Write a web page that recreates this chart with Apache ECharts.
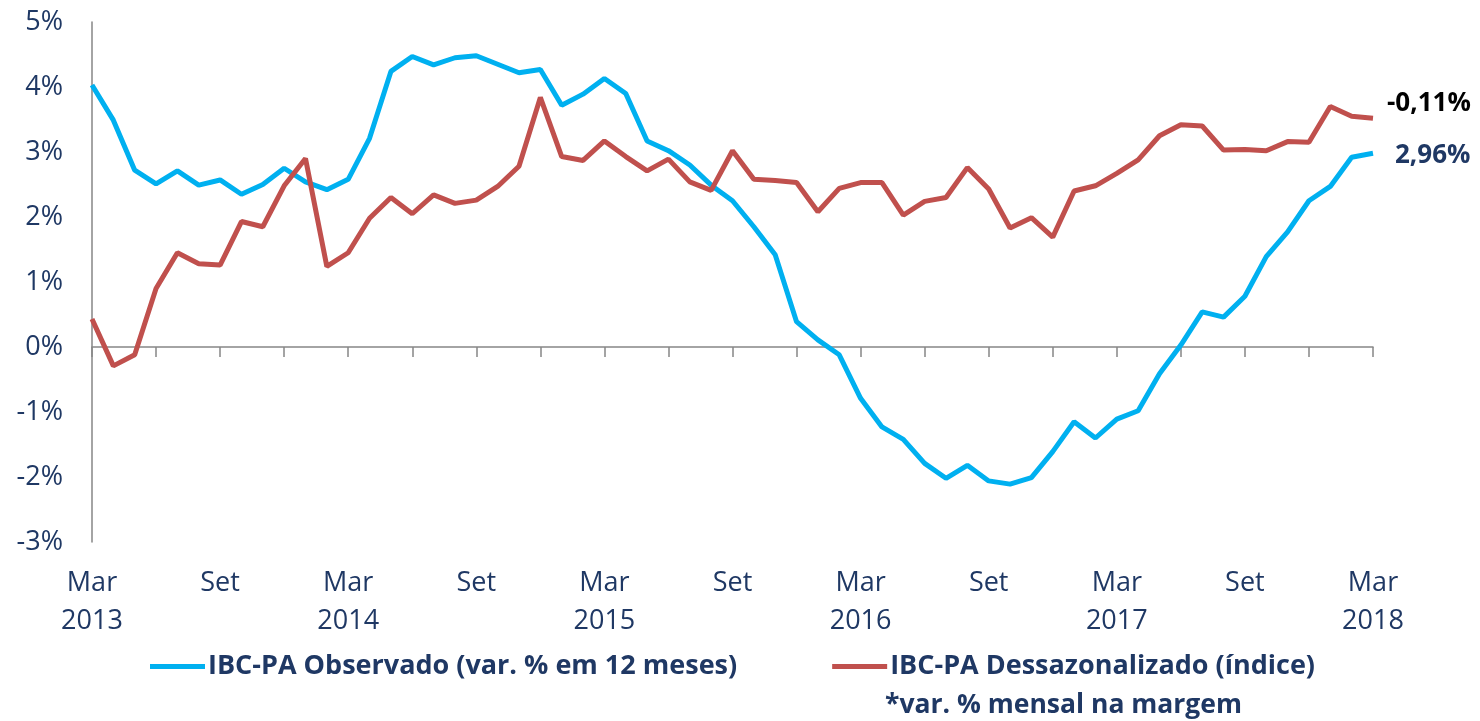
<!DOCTYPE html>
<html>
<head>
<meta charset="utf-8">
<script src="https://cdn.jsdelivr.net/npm/echarts@6/dist/echarts.min.js"></script>
<style>
  html, body { margin: 0; padding: 0; background: #fff; }
  #main { width: 1480px; height: 721px; }
</style>
</head>
<body>
<div id="main"></div>
<script>
// meses de Mar/2013 a Mar/2018
var monthNames = ['Jan', 'Fev', 'Mar', 'Abr', 'Mai', 'Jun', 'Jul', 'Ago', 'Set', 'Out', 'Nov', 'Dez'];
var startYear = 2013, startMonth = 2, nMonths = 61;

// IBC-PA Observado (var. % em 12 meses)
var observado = [
  4.03, 3.49, 2.72, 2.51, 2.71, 2.49, 2.57, 2.35, 2.50, 2.75, 2.54, 2.42,
  2.58, 3.21, 4.24, 4.47, 4.34, 4.45, 4.48, 4.35, 4.22, 4.27, 3.72, 3.89,
  4.13, 3.90, 3.17, 3.02, 2.80, 2.49, 2.25, 1.85, 1.42, 0.39, 0.11, -0.12,
  -0.79, -1.23, -1.42, -1.79, -2.02, -1.82, -2.06, -2.11, -2.01, -1.61, -1.15, -1.40,
  -1.11, -0.98, -0.41, 0.03, 0.54, 0.46, 0.78, 1.39, 1.77, 2.25, 2.47, 2.92,
  2.98
];

// IBC-PA Dessazonalizado (índice), na escala do gráfico
var dessazonalizado = [
  0.43, -0.29, -0.12, 0.90, 1.45, 1.28, 1.26, 1.93, 1.85, 2.48, 2.90, 1.24,
  1.45, 1.98, 2.30, 2.05, 2.34, 2.21, 2.26, 2.47, 2.78, 3.84, 2.93, 2.87,
  3.17, 2.93, 2.71, 2.89, 2.54, 2.41, 3.02, 2.58, 2.56, 2.53, 2.08, 2.44,
  2.53, 2.53, 2.03, 2.24, 2.30, 2.76, 2.43, 1.83, 1.99, 1.69, 2.40, 2.48,
  2.67, 2.88, 3.25, 3.42, 3.40, 3.03, 3.04, 3.02, 3.16, 3.15, 3.70, 3.55,
  3.52
];

var endLabels = ['2,96%', '-0,11%'];
var noteText = '*var. % mensal na margem';

var categories = [];
for (var i = 0; i < nMonths; i++) {
  var m = (startMonth + i) % 12;
  var y = startYear + Math.floor((startMonth + i) / 12);
  categories.push(monthNames[m] + ' ' + y);
}

var navy = '#1F3864';
var font = 'Open Sans';

var chart = echarts.init(document.getElementById('main'), null, { renderer: 'canvas' });

var option = {
  backgroundColor: '#fff',
  animation: false,
  textStyle: { fontFamily: font },
  grid: { left: 92, right: 107, top: 22, bottom: 179 },
  legend: {
    left: 145,
    top: 648,
    itemGap: 95,
    itemWidth: 55,
    itemHeight: 5,
    icon: 'rect',
    textStyle: { fontFamily: font, fontSize: 27, fontWeight: 'bold', color: navy, padding: [0, 0, 0, -2] },
    data: ['IBC-PA Observado (var. % em 12 meses)', 'IBC-PA Dessazonalizado (índice)']
  },
  graphic: [{
    type: 'text',
    left: 885,
    top: 692,
    style: { text: noteText, font: 'bold 26.5px "' + font + '"', fill: navy }
  }],
  xAxis: [{
    type: 'category',
    data: categories,
    boundaryGap: false,
    axisLine: { onZero: true, lineStyle: { color: '#868686', width: 1.5 } },
    axisTick: { interval: 2, length: 10, lineStyle: { color: '#868686', width: 1.5 } },
    axisLabel: { show: false },
    splitLine: { show: false }
  }, {
    type: 'category',
    data: categories,
    position: 'bottom',
    boundaryGap: false,
    axisLine: { show: false, onZero: false },
    axisTick: { show: false },
    axisLabel: {
      interval: 5,
      margin: 22,
      fontFamily: font,
      fontSize: 27,
      lineHeight: 38,
      color: navy,
      formatter: function (v) {
        var p = v.split(' ');
        return p[0] === 'Mar' ? p[0] + '\n' + p[1] : p[0];
      }
    },
    splitLine: { show: false }
  }],
  yAxis: {
    type: 'value',
    min: -3,
    max: 5,
    interval: 1,
    axisLine: { show: true, lineStyle: { color: '#868686', width: 1.5 } },
    axisTick: { show: false },
    splitLine: { show: false },
    axisLabel: {
      margin: 29,
      fontFamily: font,
      fontSize: 27,
      color: navy,
      formatter: '{value}%'
    }
  },
  series: [{
    name: 'IBC-PA Observado (var. % em 12 meses)',
    type: 'line',
    xAxisIndex: 0,
    data: observado,
    showSymbol: false,
    color: '#00B0F0',
    lineStyle: { width: 5, color: '#00B0F0' },
    endLabel: {
      show: true,
      formatter: endLabels[0],
      offset: [14, 2],
      fontFamily: font,
      fontSize: 26,
      fontWeight: 'bold',
      color: navy
    }
  }, {
    name: 'IBC-PA Dessazonalizado (índice)',
    type: 'line',
    xAxisIndex: 0,
    data: dessazonalizado,
    showSymbol: false,
    color: '#C0504D',
    lineStyle: { width: 5, color: '#C0504D' },
    endLabel: {
      show: true,
      formatter: endLabels[1],
      offset: [6, -15],
      fontFamily: font,
      fontSize: 26,
      fontWeight: 'bold',
      color: '#000'
    }
  }]
};

chart.setOption(option);
</script>
</body>
</html>
